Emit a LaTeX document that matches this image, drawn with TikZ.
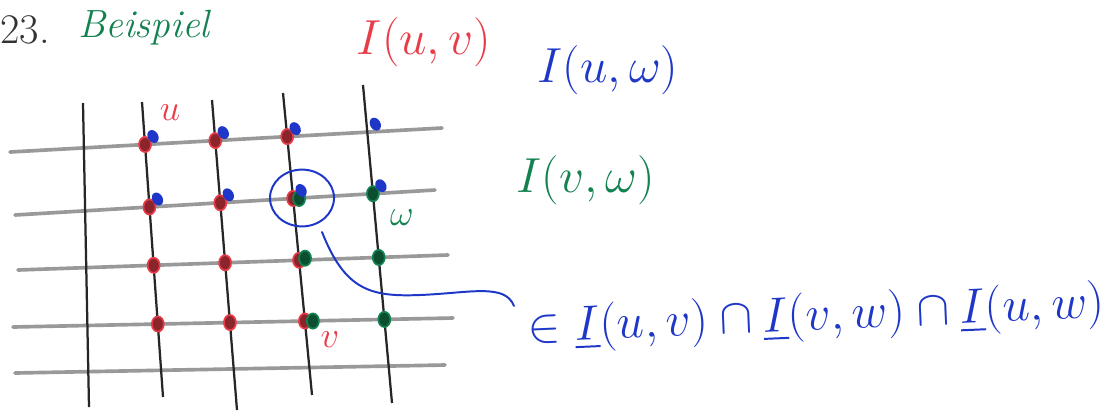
\RequirePackage{fix-cm}
\documentclass[tikz,border=0pt]{standalone}
\usepackage{amssymb}
\usetikzlibrary{shapes.geometric}
\begin{document}
\begin{tikzpicture}[x=0.025cm,y=-0.025cm,
  gridv/.style={line width=1.6pt,draw=black!85},
  gridh/.style={line width=2.6pt,draw=black!40,line cap=round},
  rdot/.style={ellipse,minimum width=0.3cm,minimum height=0.38cm,inner sep=0pt,line width=1.2pt},
  bdot/.style={ellipse,minimum width=0.26cm,minimum height=0.34cm,inner sep=0pt,rotate=30},
  gdot/.style={ellipse,minimum width=0.3cm,minimum height=0.38cm,inner sep=0pt,line width=1.2pt},
  txt/.style={inner sep=0pt,font=\fontsize{35}{38}\selectfont},
  lbl/.style={inner sep=0pt,font=\fontsize{26}{28}\selectfont}]
\definecolor{hred}{RGB}{232,60,72}
\definecolor{hblue}{RGB}{30,55,200}
\definecolor{hgreen}{RGB}{20,130,80}
\tikzset{rdot/.append style={fill=hred!60!black,draw=hred},
  bdot/.append style={fill=hblue},
  gdot/.append style={fill=hgreen!60!black,draw=hgreen}}
\useasboundingbox (0,0) rectangle (1108,410);
\fill[white] (0,0) rectangle (1108,410);
% grid ends
\coordinate (v1a) at (83,103);  \coordinate (v1b) at (89,407);
\coordinate (v2a) at (142,102); \coordinate (v2b) at (163,397);
\coordinate (v3a) at (212,100); \coordinate (v3b) at (237,410);
\coordinate (v4a) at (283,93);  \coordinate (v4b) at (312,395);
\coordinate (v5a) at (363,85);  \coordinate (v5b) at (392,403);
\coordinate (h1a) at (10,152);  \coordinate (h1b) at (442,128);
\coordinate (h2a) at (15,215);  \coordinate (h2b) at (435,190);
\coordinate (h3a) at (18,270);  \coordinate (h3b) at (448,255);
\coordinate (h4a) at (13,327);  \coordinate (h4b) at (453,318);
\coordinate (h5a) at (15,373);  \coordinate (h5b) at (445,365);
\foreach \i in {1,...,5} {\draw[gridh] (h\i a) -- (h\i b);}
\foreach \i in {1,...,5} {\draw[gridv] (v\i a) -- (v\i b);}
\foreach \c in {2,...,5} {\foreach \r in {1,...,4} {
  \coordinate (p\c\r) at (intersection of v\c a--v\c b and h\r a--h\r b);}}
% red dots: I(u,v)
\foreach \c in {2,3,4} {\foreach \r in {1,...,4} {
  \node[rdot] (r\c\r) at (p\c\r) {};}}
% green dots: I(v,w)
\node[gdot] (g42) at ([xshift=0.15cm]p42) {};
\node[gdot] (g43) at ([xshift=0.15cm,yshift=0.05cm]p43) {};
\node[gdot] (g44) at ([xshift=0.2cm]p44) {};
\foreach \r in {2,3,4} {\node[gdot] (g5\r) at (p5\r) {};}
% blue dots: I(u,w)
\foreach \c in {2,...,5} {\foreach \r in {1,2} {
  \node[bdot] (b\c\r) at ([xshift=0.2cm,yshift=0.2cm]p\c\r) {};}}
% labels
\node[lbl,text=hred] (lu) at (170,113) {$u$};
\node[lbl,text=hgreen] (lw) at (402,218) {$\omega$};
\node[lbl,text=hred] (lv) at (330,340) {$v$};
% circle and connector
\node[draw=hblue,line width=1.4pt,ellipse,minimum width=1.6cm,minimum height=1.42cm] (circ) at (302,198) {};
\coordinate (hook) at (514,306);
\draw[hblue,line width=1.4pt,line cap=round] (322,232) .. controls (345,290) and (370,297) .. (420,295)
  .. controls (470,293) and (505,283) .. (hook);
% titles
\node[txt,anchor=west,text=black!80,font=\fontsize{30}{32}\selectfont] (num) at (0,30) {23.};
\node[txt,anchor=west,text=hgreen,font=\fontsize{28}{30}\selectfont] (title) at (78,28) {\itshape Beispiel};
\node[txt,text=hred] (iuv) at (424,42) {$I(u,v)$};
\node[txt,text=hblue] (iuw) at (608,70) {$I(u,\omega)$};
\node[txt,text=hgreen] (ivw) at (586,180) {$I(v,\omega)$};
\node[txt,text=hblue,anchor=west,rotate=2.5] (expr) at (528,330)
  {$\in \underline{I}(u,v)\cap\underline{I}(v,w)\cap\underline{I}(u,w)$};
\end{tikzpicture}
\end{document}
